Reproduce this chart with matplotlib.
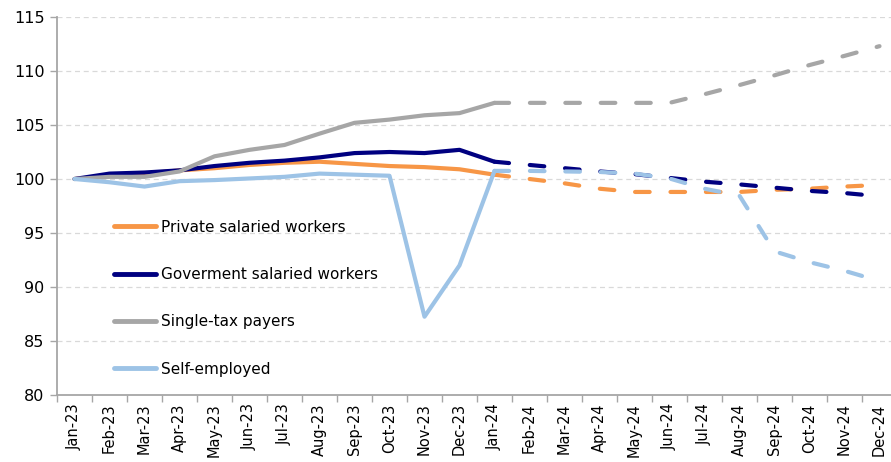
import numpy as np
import matplotlib
matplotlib.use("Agg")
import matplotlib.pyplot as plt

months = ["Jan-23", "Feb-23", "Mar-23", "Apr-23", "May-23", "Jun-23", "Jul-23", "Aug-23",
          "Sep-23", "Oct-23", "Nov-23", "Dec-23", "Jan-24", "Feb-24", "Mar-24", "Apr-24",
          "May-24", "Jun-24", "Jul-24", "Aug-24", "Sep-24", "Oct-24", "Nov-24", "Dec-24"]

# index, Jan-23 = 100; first 13 months actual, Jan-24 onwards forecast
private = [100.0, 100.3, 100.5, 100.8, 101.0, 101.3, 101.5, 101.6, 101.4, 101.2, 101.1, 100.9,
           100.4, 100.0, 99.6, 99.1, 98.8, 98.8, 98.8, 98.8, 99.0, 99.1, 99.3, 99.45]
government = [100.0, 100.5, 100.6, 100.8, 101.2, 101.5, 101.7, 102.0, 102.4, 102.5, 102.4, 102.7,
              101.6, 101.3, 101.0, 100.7, 100.45, 100.1, 99.75, 99.5, 99.2, 98.9, 98.7, 98.4]
single_tax = [100.0, 100.2, 100.2, 100.7, 102.1, 102.7, 103.15, 104.2, 105.2, 105.5, 105.9, 106.1,
              107.05, 107.05, 107.05, 107.05, 107.05, 107.05, 107.85, 108.7, 109.6, 110.55, 111.4, 112.3]
self_employed = [100.0, 99.7, 99.3, 99.8, 99.9, 100.05, 100.2, 100.5, 100.4, 100.3, 87.25, 92.0,
                 100.75, 100.75, 100.7, 100.65, 100.5, 100.05, 99.1, 98.45, 93.3, 92.3, 91.5, 90.55]
last_actual = 12

series = [
    ("Private salaried workers", private, "#F79646"),
    ("Goverment salaried workers", government, "#000080"),
    ("Single-tax payers", single_tax, "#A6A6A6"),
    ("Self-employed", self_employed, "#9DC3E6"),
]

fig = plt.figure(figsize=(8.91, 4.62), dpi=100)
ax = fig.add_axes([57 / 891, 67 / 462, 840 / 891, 378 / 462])

x = np.arange(len(months))
for label, vals, color in series:
    vals = np.array(vals)
    ax.plot(x[:last_actual + 1], vals[:last_actual + 1], color=color, lw=3,
            solid_capstyle="round", solid_joinstyle="round", label=label)
    ax.plot(x[last_actual:], vals[last_actual:], color=color, lw=3,
            dashes=(3.5, 5), dash_capstyle="round")

ax.set_xlim(-0.5, len(months) - 0.5)
ax.set_ylim(80, 115)
ax.set_yticks(np.arange(80, 116, 5))
ax.set_xticks(x)
ax.set_xticklabels(months, rotation=90, fontsize=10.5)
ax.set_xticks(np.arange(-0.5, len(months), 1), minor=True)
ax.tick_params(axis="x", which="major", length=0, pad=6)
ax.tick_params(axis="x", which="minor", length=5, color="#A6A6A6", width=1)
ax.tick_params(axis="y", length=5, color="#A6A6A6", width=1, labelsize=11.5, pad=4)

ax.grid(axis="y", color="#D9D9D9", ls=(0, (4, 3)), lw=0.9)
ax.set_axisbelow(True)
for side in ["top", "right"]:
    ax.spines[side].set_visible(False)
for side in ["left", "bottom"]:
    ax.spines[side].set_color("#A6A6A6")
    ax.spines[side].set_linewidth(1.3)

leg = ax.legend(loc="upper left", bbox_to_anchor=(106 / 891, 1 - 212 / 462),
                bbox_transform=fig.transFigure, frameon=False, fontsize=11,
                handlelength=2.8, handletextpad=0.3, labelspacing=2.12, borderpad=0)
for h in leg.legend_handles:
    h.set_linewidth(3.5)

fig.savefig("out.png", dpi=100)
